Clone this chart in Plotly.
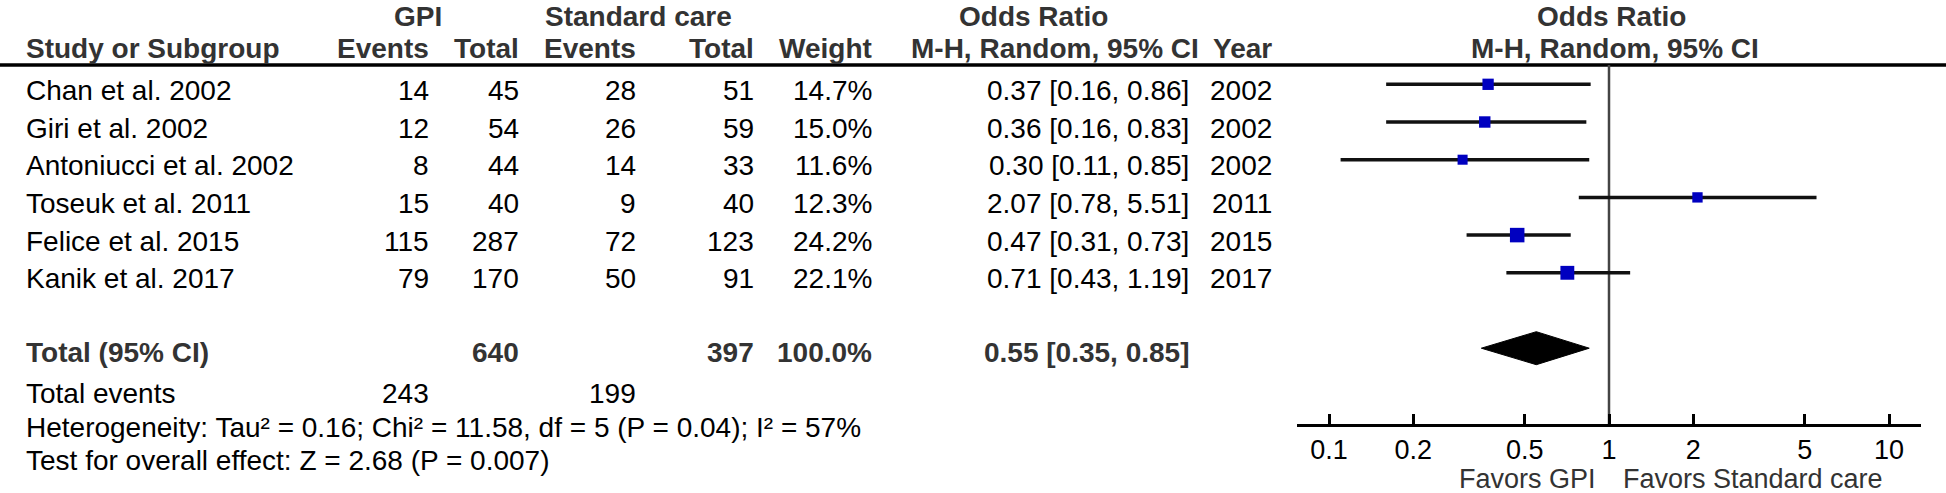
import plotly.graph_objects as go
import numpy as np

W, H = 1946, 493

# ---------------- data ----------------
studies = ["Chan et al. 2002", "Giri et al. 2002", "Antoniucci et al. 2002",
           "Toseuk et al. 2011", "Felice et al. 2015", "Kanik et al. 2017"]
gpi_events = [14, 12, 8, 15, 115, 79]
gpi_total = [45, 54, 44, 40, 287, 170]
std_events = [28, 26, 14, 9, 72, 50]
std_total = [51, 59, 33, 40, 123, 91]
weights = [14.7, 15.0, 11.6, 12.3, 24.2, 22.1]
or_est = [0.37, 0.36, 0.30, 2.07, 0.47, 0.71]
or_lo = [0.16, 0.16, 0.11, 0.78, 0.31, 0.43]
or_hi = [0.86, 0.83, 0.85, 5.51, 0.73, 1.19]
years = [2002, 2002, 2002, 2011, 2015, 2017]

pooled_or, pooled_lo, pooled_hi = 0.55, 0.35, 0.85
total_gpi, total_std, total_weight = 640, 397, 100.0
events_gpi, events_std = 243, 199
heterogeneity = "Heterogeneity: Tau² = 0.16; Chi² = 11.58, df = 5 (P = 0.04); I² = 57%"
overall_effect = "Test for overall effect: Z = 2.68 (P = 0.007)"
null_or = 1
tick_vals = [0.1, 0.2, 0.5, 1, 2, 5, 10]
tick_text = ["0.1", "0.2", "0.5", "1", "2", "5", "10"]
favours_left = "Favors GPI"
favours_right = "Favors Standard care"

# ---------------- layout constants (pixels) ----------------
ROW0 = 84.3
STEP = 37.7
AXIS_Y = 424
HLINE_Y = 65
POOLED_ROW = 7
TEXT_DY = 6
FONT = "Liberation Sans, Arial, sans-serif"
HEAD_COLOR = "#333333"

C_STUDY = 25
C_GPI_EV, C_GPI_TOT = 430, 520
C_STD_EV, C_STD_TOT = 637, 755
C_WT, C_CI, C_YEAR = 873, 1190, 1273
X_LEFT_PX, X_RIGHT_PX = 1297, 1921
DECADE_PX = 280

fig = go.Figure()

# CI lines + squares
fig.add_trace(go.Scatter(
    x=or_est, y=list(range(len(studies))),
    mode="markers",
    marker=dict(symbol="square", color="#0000C0", opacity=1,
                size=[2.95 * np.sqrt(w) for w in weights], line=dict(width=0)),
    error_x=dict(type="data", symmetric=False,
                 array=[h - e for h, e in zip(or_hi, or_est)],
                 arrayminus=[e - l for e, l in zip(or_est, or_lo)],
                 color="#111111", thickness=3.5, width=0),
    showlegend=False, hoverinfo="skip"))

# pooled diamond
dh = 16.5 / STEP
fig.add_trace(go.Scatter(
    x=[pooled_lo, pooled_or, pooled_hi, pooled_or, pooled_lo],
    y=[POOLED_ROW, POOLED_ROW - dh, POOLED_ROW, POOLED_ROW + dh, POOLED_ROW],
    mode="lines", fill="toself", fillcolor="black",
    line=dict(color="black", width=1), showlegend=False, hoverinfo="skip"))

half_dec = (X_RIGHT_PX - X_LEFT_PX) / 2 / DECADE_PX
fig.update_layout(
    width=W, height=H, margin=dict(l=0, r=0, t=0, b=0),
    paper_bgcolor="white", plot_bgcolor="white",
    font=dict(family=FONT, color="black"),
    xaxis=dict(type="log", domain=[X_LEFT_PX / W, X_RIGHT_PX / W],
               range=[-half_dec, half_dec],
               tickvals=tick_vals, ticktext=tick_text,
               ticks="inside", ticklen=10, tickwidth=3, tickcolor="black",
               showline=True, linewidth=3, linecolor="black",
               showgrid=False, zeroline=False,
               tickfont=dict(size=27, color="black", family=FONT),
               ticklabelstandoff=0),
    yaxis=dict(domain=[1 - AXIS_Y / H, 1],
               range=[(AXIS_Y - ROW0) / STEP, -ROW0 / STEP],
               visible=False, showgrid=False, zeroline=False),
)

# header rule and null line
fig.add_shape(type="line", xref="paper", yref="paper", x0=0, x1=1,
              y0=1 - HLINE_Y / H, y1=1 - HLINE_Y / H,
              line=dict(color="black", width=3.5), layer="below")
fig.add_shape(type="line", xref="x", yref="paper", x0=null_or, x1=null_or,
              y0=1 - AXIS_Y / H, y1=1 - HLINE_Y / H,
              line=dict(color="#444444", width=2.5), layer="below")


def txt(px, py, s, anchor="right", bold=False, color="black", size=28, yanchor="middle"):
    fig.add_annotation(
        x=px / W, y=1 - py / H, xref="paper", yref="paper",
        text=f"<b>{s}</b>" if bold else s, showarrow=False,
        xanchor=anchor, yanchor=yanchor,
        font=dict(family=FONT, size=size, color=color), borderpad=0)


# headers
HY2 = 48
for px, s in [(418, "GPI"), (638, "Standard care"), (1033, "Odds Ratio"), (1611, "Odds Ratio")]:
    txt(px, 0, s, "center", True, HEAD_COLOR, yanchor="top")
txt(C_STUDY, HY2, "Study or Subgroup", "left", True, HEAD_COLOR)
txt(C_GPI_EV, HY2, "Events", "right", True, HEAD_COLOR)
txt(C_GPI_TOT, HY2, "Total", "right", True, HEAD_COLOR)
txt(C_STD_EV, HY2, "Events", "right", True, HEAD_COLOR)
txt(C_STD_TOT, HY2, "Total", "right", True, HEAD_COLOR)
txt(C_WT, HY2, "Weight", "right", True, HEAD_COLOR)
txt(1200, HY2, "M-H, Random, 95% CI", "right", True, HEAD_COLOR)
txt(C_YEAR, HY2, "Year", "right", True, HEAD_COLOR)
txt(1615, HY2, "M-H, Random, 95% CI", "center", True, HEAD_COLOR)

# study rows
for i, name in enumerate(studies):
    py = ROW0 + STEP * i + TEXT_DY
    txt(C_STUDY, py, name, "left")
    txt(C_GPI_EV, py, str(gpi_events[i]))
    txt(C_GPI_TOT, py, str(gpi_total[i]))
    txt(C_STD_EV, py, str(std_events[i]))
    txt(C_STD_TOT, py, str(std_total[i]))
    txt(C_WT, py, f"{weights[i]:.1f}%")
    txt(C_CI, py, f"{or_est[i]:.2f} [{or_lo[i]:.2f}, {or_hi[i]:.2f}]")
    txt(C_YEAR, py, str(years[i]))

# totals
PY_TOT = 352
txt(C_STUDY, PY_TOT, "Total (95% CI)", "left", True, HEAD_COLOR)
txt(C_GPI_TOT, PY_TOT, str(total_gpi), "right", True, HEAD_COLOR)
txt(C_STD_TOT, PY_TOT, str(total_std), "right", True, HEAD_COLOR)
txt(C_WT, PY_TOT, f"{total_weight:.1f}%", "right", True, HEAD_COLOR)
txt(C_CI, PY_TOT, f"{pooled_or:.2f} [{pooled_lo:.2f}, {pooled_hi:.2f}]", "right", True, HEAD_COLOR)

PY_EV, PY_HET, PY_TEST = 393, 427, 460
txt(C_STUDY, PY_EV, "Total events", "left")
txt(C_GPI_EV, PY_EV, str(events_gpi))
txt(C_STD_EV, PY_EV, str(events_std))
txt(C_STUDY, PY_HET, heterogeneity, "left")
txt(C_STUDY, PY_TEST, overall_effect, "left")

# favours labels
txt(1597, 479, favours_left, "right", False, HEAD_COLOR, 27)
txt(1622, 479, favours_right, "left", False, HEAD_COLOR, 27)

fig.write_html(
    "out.html",
    config={"displayModeBar": False},
    post_script="document.body.style.margin='0';document.body.style.overflow='hidden';",
)
